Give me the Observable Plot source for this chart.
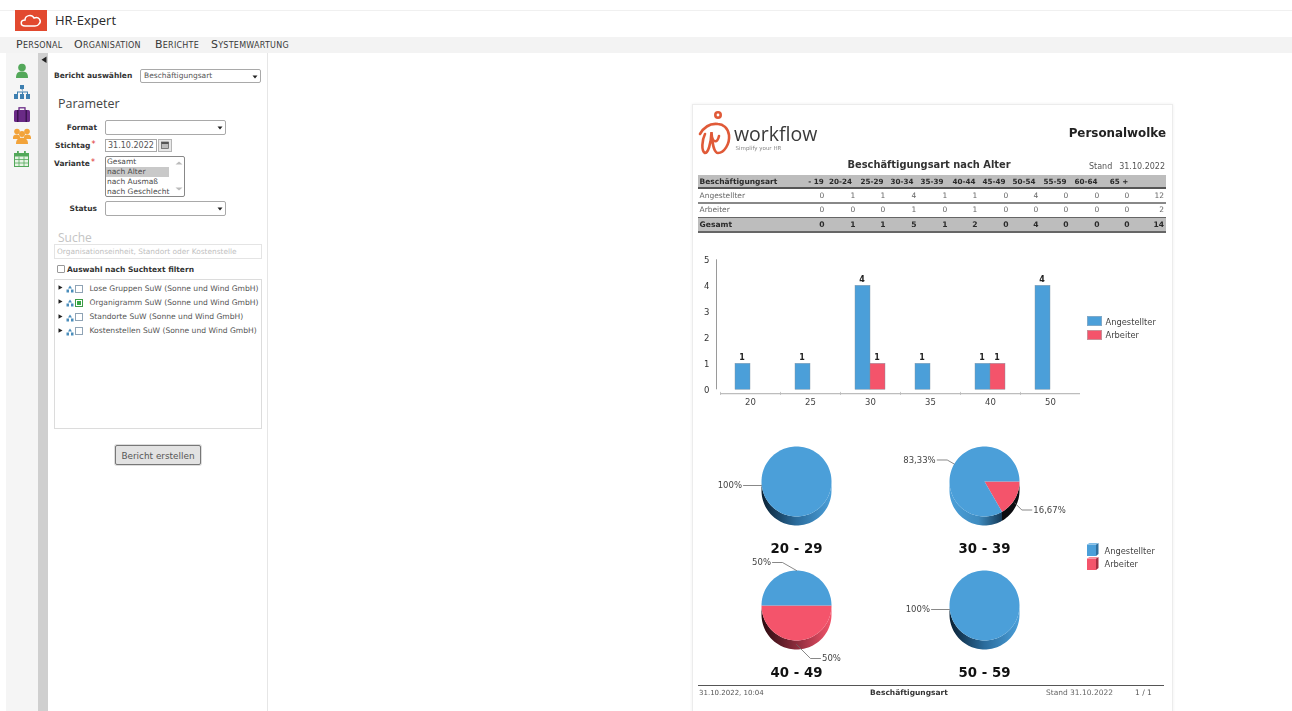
<!DOCTYPE html>
<html lang="de">
<head>
<meta charset="utf-8">
<script src="https://cdn.jsdelivr.net/npm/d3@7"></script>
<script src="https://cdn.jsdelivr.net/npm/@observablehq/plot@0.6"></script>
<style>
html,body{margin:0;padding:0;background:#fff;overflow:hidden}
#page{position:relative;width:1292px;height:711px;overflow:hidden;filter:blur(.5px);font-family:"DejaVu Sans",sans-serif;color:#333}
#page .t{position:absolute;white-space:nowrap;line-height:1;transform:translateY(-50%);font-size:8px}
#page .b{position:absolute;box-sizing:border-box}
#page svg.pos{position:absolute;overflow:visible}
</style>
</head>
<body>
<div id="page"></div>
<svg width="0" height="0" style="position:absolute">
  <defs>
    <linearGradient id="sideBlue"><stop offset="0" stop-color="#0a2134"/><stop offset=".5" stop-color="#2b6c9c"/><stop offset="1" stop-color="#4b9fd9"/></linearGradient>
    <linearGradient id="sideBlueRev"><stop offset="0" stop-color="#4b9fd9"/><stop offset=".55" stop-color="#3f8cc0"/><stop offset="1" stop-color="#153a58"/></linearGradient>
    <linearGradient id="sideRed"><stop offset="0" stop-color="#2a0a10"/><stop offset=".5" stop-color="#8c2c3c"/><stop offset="1" stop-color="#f4546b"/></linearGradient>
  </defs>
</svg>
<script>
// ---------- data ----------
const tableAges = ["- 19","20-24","25-29","30-34","35-39","40-44","45-49","50-54","55-59","60-64","65 +"];
const employees = [0,1,1,4,1,1,0,4,0,0,0,12];
const workers   = [0,0,0,1,0,1,0,0,0,0,0,2];
const totals    = [0,1,1,5,1,2,0,4,0,0,0,14];

const barAges = ["20","25","30","35","40","50"];
const barEmployees = [1,1,4,1,1,4];
const barWorkers   = [0,0,1,0,1,0];
const seriesNames  = ["Angestellter","Arbeiter"];

const pieTitles    = ["20 - 29","30 - 39","40 - 49","50 - 59"];
const pieEmployees = [100,83.33,50,100];
const pieWorkers   = [0,16.67,50,0];

const variants = ["Gesamt","nach Alter","nach Ausmaß","nach Geschlecht"];
const treeItems = ["Lose Gruppen SuW (Sonne und Wind GmbH)","Organigramm SuW (Sonne und Wind GmbH)","Standorte SuW (Sonne und Wind GmbH)","Kostenstellen SuW (Sonne und Wind GmbH)"];
const menuItems = ["Personal","Organisation","Berichte","Systemwartung"];

// ---------- colours ----------
const BLUE="#4b9fd9", RED="#f4546b";

// ---------- helpers ----------
const page=document.getElementById("page");
function t(x,y,s,style={},anchor="start"){
  const e=document.createElement("div");e.className="t";e.textContent=s;
  Object.assign(e.style,{left:x+"px",top:y+"px"},style);
  if(anchor==="end")e.style.transform="translate(-100%,-50%)";
  if(anchor==="middle")e.style.transform="translate(-50%,-50%)";
  page.appendChild(e);return e;
}
function b(x,y,w,h,style={}){
  const e=document.createElement("div");e.className="b";
  Object.assign(e.style,{left:x+"px",top:y+"px",width:w+"px",height:h+"px"},style);
  page.appendChild(e);return e;
}
function icon(x,y,w,h,inner){
  const s=document.createElementNS("http://www.w3.org/2000/svg","svg");
  s.setAttribute("class","pos");s.setAttribute("width",w);s.setAttribute("height",h);
  s.setAttribute("viewBox",`0 0 ${w} ${h}`);s.style.left=x+"px";s.style.top=y+"px";
  s.innerHTML=inner;page.appendChild(s);return s;
}
function arrow(x,y){icon(x,y,6,4,'<path d="M0.5 0.5H5.5L3 3.5Z" fill="#222"/>');}
function select(x,y,w,h){b(x,y,w,h,{background:"#fff",border:"1px solid #a9a9a9",borderRadius:"2px"});arrow(x+w-9,y+h/2-1.5);}

// ---------- app chrome ----------
b(0,10,1292,27,{background:"#fff",borderTop:"1px solid #f0f0f0"});
b(15,10,32,21,{background:"#e2492f"});
icon(19,12,25,17,'<path d="M6 14 C1 14 1 8 6 8 C6 3 13 2 15 6 C20 4 23 9 20 12 C19 14 17 14 16 14Z" fill="none" stroke="#fff" stroke-width="1.5"/>');
t(55,20,"HR-Expert",{fontFamily:"Open Sans",fontSize:"13px",color:"#2a2a2a"});
b(0,37,1292,16,{background:"#f3f3f3"});
[16,74,155,211].forEach((x,i)=>{
  t(x,44,menuItems[i],{fontVariant:"small-caps",fontFamily:"DejaVu Sans",fontSize:"11px",color:"#3a3a3a",letterSpacing:".25px"});
});
b(6,53,32,658,{background:"#f5f5f5"});
b(38,53,10,658,{background:"#cfcfcf"});
b(48,53,220,658,{background:"#fff",borderRight:"1px solid #e6e6e6"});
icon(41,56,6,8,'<path d="M5.5 0.5V7L0.5 3.7Z" fill="#222"/>');
// side icons
icon(15,63,14,16,'<circle cx="7" cy="4.5" r="3.8" fill="#53a85a"/><path d="M1 15C1 9 4 8.5 7 8.5S13 9 13 15Z" fill="#53a85a"/>');
icon(14,85,16,15,'<g fill="#3d7fb0"><rect x="6" y="0" width="4" height="4"/><rect x="0" y="9" width="4" height="5"/><rect x="6" y="9" width="4" height="5"/><rect x="12" y="9" width="4" height="5"/><path d="M7.5 4h1v2.5h5.5V9h-1V7.500h-4V9h-1V7.500h-4V9h-1V6.500h5.500z"/></g>');
icon(14,107,16,15,'<rect x="0" y="3" width="16" height="12" rx="1.500" fill="#6a2a86"/><rect x="5" y="0.800" width="6" height="3" fill="none" stroke="#6a2a86" stroke-width="1.300"/><rect x="3" y="3" width="1.500" height="12" fill="#3c1350"/><rect x="11.500" y="3" width="1.500" height="12" fill="#3c1350"/>');
icon(13,128,18,16,'<g fill="#f2a33a"><circle cx="4" cy="3.500" r="2.800"/><circle cx="14" cy="3.500" r="2.800"/><circle cx="9" cy="6" r="3"/><path d="M0 10C0 7 2 6.500 4 6.500S7 8 7 9V11H0Z"/><path d="M18 10C18 7 16 6.500 14 6.500S11 8 11 9V11H18Z"/><path d="M3 16C3 11 6 9.800 9 9.800S15 11 15 16Z"/></g>');
icon(14,151,15,16,'<rect x="0.500" y="2.500" width="14" height="13" fill="#e6f3e4" stroke="#53a85a"/><rect x="0.500" y="2.500" width="14" height="3" fill="#53a85a"/><path d="M0.500 8.500H14.500M0.500 12H14.500M5 5.500V15.500M10 5.500V15.500" stroke="#53a85a" stroke-width=".8"/><rect x="3" y="0" width="1.800" height="3.500" fill="#53a85a"/><rect x="10" y="0" width="1.800" height="3.500" fill="#53a85a"/>');

// ---------- form ----------
const bold={fontWeight:"bold",color:"#333",fontSize:"7.500px"}, redStar={color:"#d33"};
t(54,75.5,"Bericht auswählen",bold);
select(140,69,121,14); t(144,76,"Beschäftigungsart",{color:"#555",fontSize:"7.500px"});
t(58,104,"Parameter",{fontFamily:"Open Sans",fontSize:"12.500px",color:"#444"});
t(97,127.500,"Format",bold,"end"); select(105,120,121,15);
t(55,145.500,"Stichtag",bold); t(91.500,144.500,"*",redStar);
b(105,139,52,13,{background:"#fff",border:"1px solid #a9a9a9"}); t(108,145.500,"31.10.2022",{color:"#555"});
b(158,139,14,13,{background:"#e8e8e8",border:"1px solid #b5b5b5"});
icon(161,141,8,8,'<rect x="0.500" y="1" width="7" height="6.500" fill="#bbb" stroke="#555" stroke-width=".7"/><rect x="0.500" y="1" width="7" height="2" fill="#555"/>');
t(54,163.500,"Variante",bold); t(91,162.500,"*",redStar);
b(105,156,80,41,{background:"#fff",border:"1px solid #888",borderRadius:"2px"});
b(106,167,63,10,{background:"#c9c9c9"});
variants.forEach((v,i)=>t(107,161.500+i*10,v,{color:"#4a4a4a",fontSize:"7.500px"}));
icon(175,161,8,4,'<path d="M0.500 3.500L4 0.500L7.500 3.500Z" fill="#bbb"/>');
icon(175,187,8,4,'<path d="M0.500 0.500L4 3.500L7.500 0.500Z" fill="#bbb"/>');
t(97,208.500,"Status",bold,"end"); select(105,201,121,15);
t(58,237.500,"Suche",{fontFamily:"Open Sans",fontSize:"12px",color:"#c4c4c4"});
b(54,244,208,15,{background:"#fff",border:"1px solid #e4e4e4"});
t(57,251.500,"Organisationseinheit, Standort oder Kostenstelle",{color:"#c0c0c0",fontSize:"7.400px"});
b(57,265,8,8,{background:"#fff",border:"1px solid #999",borderRadius:"1px"});
t(67,269.500,"Auswahl nach Suchtext filtern",bold);
b(54,279,208,150,{background:"#fff",border:"1px solid #dcdcdc"});
treeItems.forEach((s,i)=>{
  const y=288+i*14.300;
  icon(58,y-3,5,5,'<path d="M0.500 0.300V4.700L4.500 2.500Z" fill="#222"/>');
  icon(65.500,y-3,8,8,'<path d="M4 0.500L6 3.500H2ZM0.500 4.500H3V7.500H0.500ZM5 4.500H7.500V7.500H5Z" fill="#4a8dbb"/>');
  b(75,y-3.500,8,8,{background:"#fff",border:i===1?"1px solid #3d9a47":"1px solid #8fa3b5"});
  if(i===1)b(77,y-1.500,4,4,{background:"#38a845"});
  t(89.500,y+0.500,s,{color:"#555",fontSize:"7.600px"});
});
b(115,445,86,20,{background:"#e2e2e2",border:"1px solid #777",borderRadius:"2px",boxShadow:"0 0 0 1px #ddd"});
t(158,455.500,"Bericht erstellen",{fontSize:"8.900px",color:"#555"},"middle");

// ---------- report sheet ----------
b(692,104,481,620,{background:"#fff",border:"1px solid #ececec",boxShadow:"0 0 3px #eee"});
icon(698,108,36,50,'<g fill="none" stroke="#e05a38" stroke-width="2.600" stroke-linecap="round"><circle cx="20" cy="7" r="2.700"/><path d="M2 26C6 19 12 15 20 16C25 16 30 20 31 27C32 36 26 45 20 45C16 45 14 34 13.500 24C13 36 10 45 7 45C3 43 4 32 7 26"/><path d="M13.500 28C15 34 19 36 21 28"/></g>');
t(734,134,"workflow",{fontFamily:"Open Sans",fontSize:"19.500px",color:"#3a3a3a"});
t(735.500,148.500,"Simplify your HR",{fontSize:"5.500px",color:"#888"});
t(1166,133.500,"Personalwolke",{fontWeight:"bold",fontSize:"11.900px",color:"#222"},"end");
t(929,164.500,"Beschäftigungsart nach Alter",{fontWeight:"bold",fontSize:"9.900px",color:"#333"},"middle");
t(1089,167,"Stand",{color:"#555"}); t(1165,167,"31.10.2022",{color:"#555"},"end");

// table
const colHead=[816,840.500,872,902,932,964,994,1024,1055,1086,1119];
const colVal=[822,853,883,914,945,975,1006,1036,1066,1097,1127,1164];
const headStyle={fontWeight:"bold",color:"#2a2a2a",fontSize:"7.200px"};
b(698,175,468,12,{background:"#bdbdbd"});
b(698,187,468,1.500,{background:"#555"});
b(698,202,468,1.500,{background:"#888"});
b(698,216.500,468,1.500,{background:"#666"});
b(698,218,468,13,{background:"#bdbdbd"});
b(698,231,468,1.500,{background:"#666"});
t(699.500,181.500,"Beschäftigungsart",{...headStyle,fontSize:"7.500px"});
tableAges.forEach((a,i)=>t(colHead[i],181.500,a,headStyle,"middle"));
const rowStyle={color:"#666",fontSize:"7.500px"};
const cell=(v,i,y,s)=>t(colVal[i],y,String(v),s,i===11?"end":"middle");
t(699.500,195.500,seriesNames[0],rowStyle); employees.forEach((v,i)=>cell(v,i,195.500,rowStyle));
t(699.500,209.500,seriesNames[1],rowStyle); workers.forEach((v,i)=>cell(v,i,209.500,rowStyle));
t(699.500,224.500,"Gesamt",{...headStyle,fontSize:"7.600px"}); totals.forEach((v,i)=>cell(v,i,224.500,{...headStyle,fontSize:"7.600px"}));

// ---------- bar chart ----------
const barRows=barAges.flatMap((a,i)=>[
  {age:a,series:seriesNames[0],value:barEmployees[i]},
  {age:a,series:seriesNames[1],value:barWorkers[i]}
]).filter(d=>d.value>0);
const barChart=Plot.plot({
  width:420,height:170,
  marginLeft:30,marginRight:30,marginTop:14.300,marginBottom:25.700,
  style:{background:"transparent",overflow:"visible",fontFamily:"DejaVu Sans"},
  fx:{domain:barAges,padding:0,label:null},
  x:{domain:seriesNames,paddingInner:0,paddingOuter:1,axis:null},
  y:{domain:[0,5],ticks:5,axis:null},
  color:{domain:seriesNames,range:[BLUE,RED]},
  marks:[
    Plot.barY(barRows,{fx:"age",x:"series",y:"value",fill:"series",stroke:"#7f8f9f",strokeWidth:.4}),
    Plot.text(barRows,{fx:"age",x:"series",y:"value",text:"value",dy:-6.500,dx:-1,fontFamily:"DejaVu Sans",fontSize:8,fill:"#222",fontWeight:"bold"}),
    Plot.axisY({ticks:5,tickSize:0,tickPadding:11,label:null,fontSize:8.500,fill:"#333"}),
    Plot.ruleX(barAges.slice(0,1),{fx:d=>d,x:()=>seriesNames[0],y1:0,y2:5,dx:-26.500,stroke:"#9a9a9a",strokeWidth:1}),
    Plot.ruleY(barAges,{fx:d=>d,y:()=>-0.150,stroke:"#bdbdbd",strokeWidth:1.200}),
    Plot.ruleX(barAges,{fx:d=>d,x:()=>seriesNames[0],y1:-0.100,y2:-0.220,dx:-22.500,stroke:"#bbb",strokeWidth:.8}),
    Plot.axisFx({anchor:"bottom",tickSize:0,tickPadding:9,label:null,fontSize:8.500,fill:"#444"})
  ]
});
Object.assign(barChart.style,{position:"absolute",left:"690px",top:"245px"});
page.appendChild(barChart);

// bar legend
b(1087,316,15,10,{background:BLUE,border:"1px solid #7fa9c9"});
b(1087,329.500,15,10,{background:RED,border:"1px solid #c98f98"});
t(1105.500,322,seriesNames[0],{fontSize:"8.300px",color:"#444"});
t(1105.500,335,seriesNames[1],{fontSize:"8.300px",color:"#444"});

// ---------- 3D pies ----------
const pieCenters=[[796,481],[984,481],[796,605],[984,605]];
const R=35,RY=35,DEPTH=9,rad=Math.PI/180;
function arc(a0,a1,yOff=0){
  const n=Math.max(2,Math.ceil((a1-a0)/3)),p=[];
  for(let i=0;i<=n;i++){const a=(a0+(a1-a0)*i/n)*rad;p.push({x:R*Math.cos(a),y:RY*Math.sin(a)+yOff});}
  return p;
}
function drawPie(k){
  const [cx,cy]=pieCenters[k];
  const shares=[pieEmployees[k],pieWorkers[k]];
  // Drawn clockwise from due east: the second series first, as in the source
  const slices=[];let a=0;
  if(shares[1]>0){const s=shares[1]*3.6;slices.push({fill:RED,a0:a,a1:a+s,v:shares[1]});a+=s;}
  if(shares[0]>0){const s=shares[0]*3.6;slices.push({fill:BLUE,a0:a,a1:a+s,v:shares[0]});a+=s;}

  const marks=[];
  // extruded side: only the part of each slice on the front half
  const front=slices.map(s=>[s,Math.max(s.a0,0),Math.min(s.a1,180)]).filter(d=>d[2]>d[1]);
  front.forEach(([s,f0,f1])=>{
    let fill;
    if(k===1) fill=s.fill===RED?"#0c0c10":"url(#sideBlueRev)";
    else if(k===2) fill="url(#sideRed)";
    else fill="url(#sideBlue)";
    const pts=[...arc(f0,f1),...arc(f0,f1,DEPTH).reverse()];
    marks.push(Plot.line(pts,{x:"x",y:"y",fill,stroke:"none",curve:"linear"}));
  });
  // top face
  slices.forEach(s=>{
    const full=s.a1-s.a0>=359.900;
    const pts=full?arc(0,360):[{x:0,y:0},...arc(s.a0,s.a1)];
    marks.push(Plot.line(pts,{x:"x",y:"y",fill:s.fill,stroke:"none",curve:"linear"}));
  });
  // leaders and labels
  slices.forEach(s=>{
    const m=((s.a0+s.a1)/2)*rad, c=Math.cos(m), sn=Math.sin(m);
    const north=Math.abs(c)<.01&&sn<0, south=Math.abs(c)<.01&&sn>0;
    const dir=north?-1:south?1:Math.sign(c);
    const flat=Math.abs(sn)<.01;
    const start={x:R*c,y:RY*sn+(sn>=-.01?4:0)};
    const elbow={x:start.x+dir*14*Math.abs(sn),y:start.y+(sn>0?14:8)*sn};
    const end={x:elbow.x+dir*(flat?18:10),y:elbow.y};
    marks.push(Plot.line([start,elbow,end],{x:"x",y:"y",stroke:"#6a6a6a",strokeWidth:.8,curve:"linear"}));
    marks.push(Plot.text([end],{x:"x",y:"y",text:()=>String(s.v).replace(".",",")+"%",
      textAnchor:dir>0?"start":"end",dx:dir*1.500,fontSize:8.500,fill:"#444",fontFamily:"DejaVu Sans"}));
  });
  // title
  marks.push(Plot.text([pieTitles[k]],{x:()=>0,y:()=>67,text:d=>d,fontSize:13.300,fontWeight:"bold",fill:"#111",fontFamily:"DejaVu Sans"}));

  const svg=Plot.plot({
    width:260,height:130,margin:0,
    style:{background:"transparent",overflow:"visible"},
    x:{type:"linear",domain:[-130,130],range:[0,260],axis:null},
    y:{type:"linear",domain:[-50,80],range:[0,130],axis:null},
    marks
  });
  Object.assign(svg.style,{position:"absolute",left:(cx-130)+"px",top:(cy-50)+"px"});
  page.appendChild(svg);
}
pieTitles.forEach((_,k)=>drawPie(k));

// pie legend
icon(1087,543,12,13,`<path d="M0 1.500H9V13H0Z" fill="${BLUE}"/><path d="M9 1.500L11.500 0V11L9 13Z" fill="#2f6f9e"/><path d="M0 1.500L2.500 0H11.500L9 1.500Z" fill="#7fbce6"/>`);
icon(1087,557,12,13,`<path d="M0 1.500H9V13H0Z" fill="${RED}"/><path d="M9 1.500L11.500 0V11L9 13Z" fill="#a52e41"/><path d="M0 1.500L2.500 0H11.500L9 1.500Z" fill="#f78c9b"/>`);
t(1104.500,550.500,seriesNames[0],{color:"#444",fontSize:"8.300px"});
t(1104.500,564,seriesNames[1],{color:"#444",fontSize:"8.300px"});

// footer
b(698,685,466,1,{background:"#555"});
t(699,692.500,"31.10.2022, 10:04",{fontSize:"7px",color:"#555"});
t(909,692.500,"Beschäftigungsart",{...bold},"middle");
t(1046,692.500,"Stand",{fontSize:"7.500px",color:"#666"});
t(1113,692.500,"31.10.2022",{fontSize:"7.500px",color:"#666"},"end");
t(1135,693,"1 / 1",{fontSize:"7.500px",color:"#555"});
</script>
</body>
</html>
